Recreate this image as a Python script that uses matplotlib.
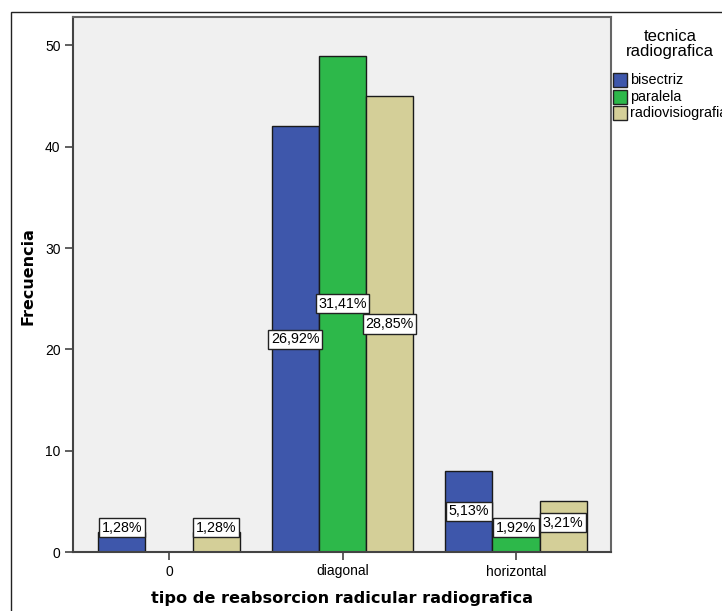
import matplotlib
matplotlib.use("Agg")
import matplotlib.pyplot as plt
import numpy as np
from matplotlib.patches import Rectangle

categories = ["0", "diagonal", "horizontal"]
series = ["bisectriz", "paralela", "radiovisiografia"]
bisectriz = [2, 42, 8]
paralela = [0, 49, 3]
radiovisiografia = [2, 45, 5]
pct_bisectriz = ["1,28%", "26,92%", "5,13%"]
pct_paralela = [None, "31,41%", "1,92%"]
pct_radio = ["1,28%", "28,85%", "3,21%"]
colors = ["#3E57AB", "#2DB84A", "#D4CF98"]

W, H = 722, 611
fig = plt.figure(figsize=(W / 100, H / 100), dpi=100)
plt.rcParams['font.family'] = ['Liberation Sans', 'DejaVu Sans']

# outer frame
fig.patches.append(Rectangle((11 / W, -0.1), 2, (H - 12) / H + 0.1, transform=fig.transFigure,
                             fill=False, edgecolor="#222222", lw=1.0))

ax = fig.add_axes([73 / W, 1 - 552 / H, (611 - 73) / W, (552 - 17) / H])
ax.set_facecolor("#F0F0F0")
x = np.arange(len(categories))
bw = 0.272
vals = [bisectriz, paralela, radiovisiografia]
pcts = [pct_bisectriz, pct_paralela, pct_radio]
for i, (v, p, c) in enumerate(zip(vals, pcts, colors)):
    xs = x + (i - 1) * bw
    ax.bar(xs, v, width=bw, color=c, edgecolor="#1a1a1a", linewidth=1.0, zorder=2)
    for xi, vi, pi in zip(xs, v, p):
        if pi is None:
            continue
        yc = max(vi / 2, 2.4)
        if pi == "3,21%":
            yc = 2.9
        ax.text(xi, yc, pi, ha="center", va="center", fontsize=10.3, zorder=5,
                bbox=dict(boxstyle="square,pad=0.18", facecolor="white", edgecolor="#222222", lw=1.0))

ax.set_xlim(-0.553, 2.547)
ax.set_ylim(0, 52.8)
ax.set_yticks([0, 10, 20, 30, 40, 50])
ax.set_xticks(x)
ax.set_xticklabels(categories)
ax.tick_params(axis="both", direction="out", length=6, width=1.2, color="#444444",
               labelsize=10, pad=3)
for s in ax.spines.values():
    s.set_color("#666666")
    s.set_linewidth(1.5)
ax.spines["left"].set_color("#444444")
ax.spines["bottom"].set_color("#444444")

fig.text(28 / W, 1 - 276 / H, "Frecuencia", rotation=90, ha="center", va="center",
         fontsize=11.5, fontweight="bold", family="DejaVu Sans")
fig.text(342 / W, 1 - 598 / H, "tipo de reabsorcion radicular radiografica", ha="center",
         va="center", fontsize=11.6, fontweight="bold", family="DejaVu Sans")

# legend
fig.text(670 / W, 1 - 44 / H, "tecnica\nradiografica", ha="center", va="center",
         fontsize=12, linespacing=1.0)
ly = [80, 97, 113]
for name, c, yy in zip(series, colors, ly):
    fig.patches.append(Rectangle((613 / W, 1 - (yy + 7) / H), 14 / W, 14 / H,
                                 transform=fig.transFigure, facecolor=c,
                                 edgecolor="#222222", lw=1.0))
    fig.text(630 / W, 1 - yy / H, name, ha="left", va="center", fontsize=10.4)

fig.savefig("out.png", dpi=100)
